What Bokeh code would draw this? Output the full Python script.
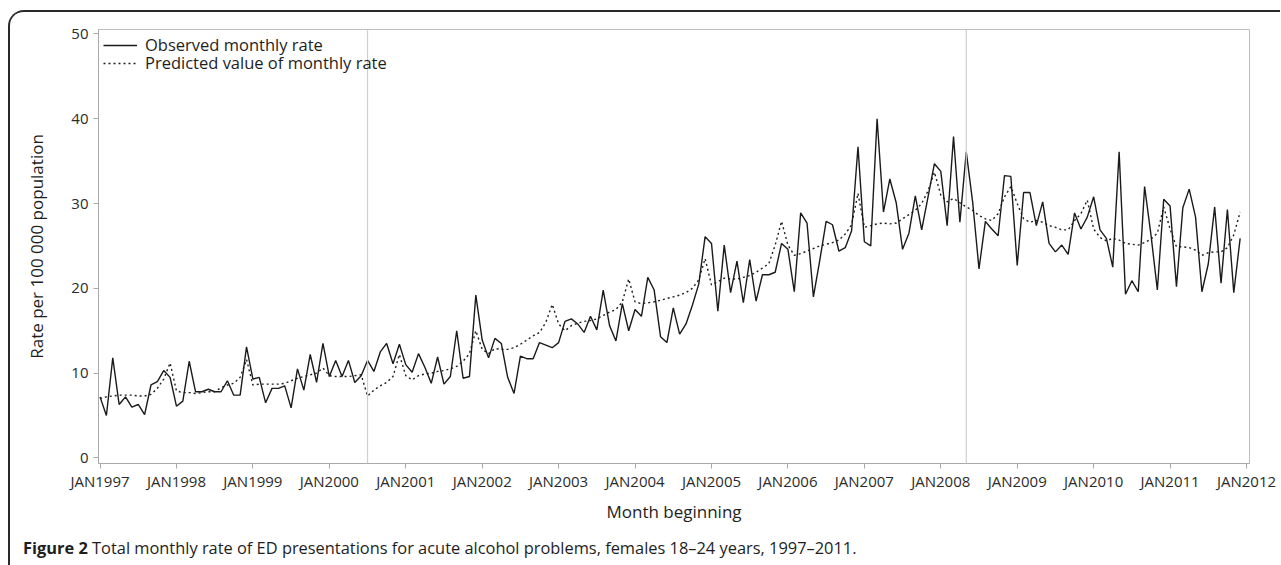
from bokeh.plotting import figure
from bokeh.models import FixedTicker, Span, Legend, LegendItem, ColumnDataSource, Range1d, Div
from bokeh.layouts import column
from bokeh.embed import file_html
from bokeh.resources import INLINE
import pandas as pd

# ---- data ----
months = pd.date_range("1997-01-01", "2011-12-01", freq="MS")

observed = [
    7.2, 5.0, 11.8, 6.3, 7.2, 6.0, 6.3, 5.1, 8.6, 9.0, 10.3, 9.5,
    6.1, 6.7, 11.4, 7.8, 7.8, 8.1, 7.8, 7.8, 9.1, 7.4, 7.4, 13.1,
    9.3, 9.5, 6.5, 8.2, 8.2, 8.5, 5.9, 10.5, 8.0, 12.2, 8.9, 13.5,
    9.6, 11.5, 9.6, 11.5, 8.9, 9.7, 11.5, 10.2, 12.5, 13.5, 11.1, 13.4,
    11.0, 10.1, 12.3, 10.7, 8.8, 11.9, 8.7, 9.6, 15.0, 9.4, 9.6, 19.2,
    13.9, 11.8, 14.1, 13.5, 9.5, 7.6, 12.0, 11.7, 11.7, 13.6, 13.3, 13.0,
    13.6, 16.1, 16.4, 15.8, 14.8, 16.7, 15.1, 19.8, 15.6, 13.8, 18.2, 15.0,
    17.5, 16.7, 21.3, 19.8, 14.3, 13.6, 17.7, 14.6, 15.8, 18.0, 20.5, 26.1,
    25.3, 17.3, 25.1, 19.5, 23.2, 18.3, 23.4, 18.5, 21.6, 21.6, 21.9, 25.3,
    24.6, 19.6, 28.9, 27.7, 19.0, 23.3, 27.9, 27.5, 24.4, 24.8, 26.8, 36.7,
    25.5, 25.0, 40.0, 29.0, 32.9, 30.1, 24.6, 26.5, 30.9, 26.9, 30.8, 34.7,
    33.8, 27.4, 37.9, 27.8, 36.1, 30.2, 22.3, 27.9, 27.0, 26.2, 33.3, 33.2,
    22.7, 31.3, 31.3, 27.4, 30.2, 25.3, 24.3, 25.1, 24.0, 28.9, 27.0, 28.4,
    30.8, 26.9, 25.9, 22.5, 36.1, 19.3, 20.9, 19.6, 32.0, 26.3, 19.8, 30.5,
    29.7, 20.2, 29.5, 31.7, 28.4, 19.6, 22.9, 29.6, 20.6, 29.3, 19.5, 25.9,
]

predicted = [
    7.0, 7.2, 7.3, 7.4, 7.4, 7.4, 7.3, 7.3, 7.5, 8.2, 9.3, 11.2,
    7.9, 7.7, 7.7, 7.6, 7.7, 7.8, 7.8, 8.3, 8.6, 8.8, 9.5, 11.6,
    8.6, 8.7, 8.7, 8.7, 8.7, 8.8, 9.1, 9.4, 9.6, 9.8, 10.0, 10.6,
    9.7, 9.6, 9.6, 9.6, 9.7, 9.8, 7.3, 8.0, 8.5, 8.9, 9.6, 12.2,
    9.7, 9.2, 9.7, 9.9, 10.0, 10.2, 10.3, 10.5, 10.8, 11.4, 12.3, 15.0,
    12.8, 12.3, 12.9, 12.8, 12.8, 13.0, 13.4, 13.9, 14.4, 14.8, 16.0, 18.1,
    15.8, 15.0, 15.6, 15.9, 16.1, 16.2, 16.4, 16.8, 17.2, 17.5, 18.4, 21.1,
    18.4, 18.2, 18.3, 18.4, 18.6, 18.8, 19.0, 19.2, 19.5, 20.0, 21.0, 23.5,
    20.4, 20.8, 21.2, 21.1, 21.1, 21.3, 21.5, 21.9, 22.4, 22.9, 25.1, 27.9,
    25.1, 23.9, 24.1, 24.4, 24.7, 25.0, 25.2, 25.4, 25.7, 26.4, 27.5, 31.2,
    27.2, 27.4, 27.6, 27.7, 27.6, 27.7, 28.2, 28.7, 29.2, 30.0, 31.5, 33.7,
    31.0, 30.2, 30.6, 30.1, 29.6, 29.2, 28.6, 28.2, 28.0, 28.8, 30.8, 32.0,
    30.0, 28.2, 27.8, 28.0, 27.8, 27.4, 27.2, 26.9, 26.9, 28.0, 28.8, 30.4,
    27.0, 26.0, 25.6, 25.9, 25.7, 25.3, 25.2, 25.1, 25.4, 25.8, 26.5, 29.6,
    27.0, 24.9, 24.9, 24.8, 24.5, 23.9, 24.2, 24.3, 24.3, 24.8, 26.3, 29.0,
]

tick_years = list(range(1997, 2013))
tick_labels = ["JAN%d" % y for y in tick_years]
y_ticks = [0, 10, 20, 30, 40, 50]
intervention_months = ["2000-07-01", "2008-05-01"]

series_labels = ["Observed monthly rate", "Predicted value of monthly rate"]
x_title = "Month beginning"
y_title = "Rate per 100 000 population"
caption_bold = "Figure 2"
caption_text = "Total monthly rate of ED presentations for acute alcohol problems, females 18\u201324 years, 1997\u20132011."


def dec_year(d):
    d = pd.Timestamp(d)
    return d.year + (d.month - 1) / 12.0


x = [dec_year(d) for d in months]
src = ColumnDataSource(dict(x=x, observed=observed, predicted=predicted))

FONT = "Open Sans"
AX = "#a9a9a9"

p = figure(
    width=1269, height=518,
    output_backend="svg", toolbar_location=None,
    x_range=Range1d(1996.98, 2012.039), y_range=Range1d(-0.66, 50.53),
    min_border_left=88, min_border_right=30, min_border_top=17, min_border_bottom=67,
)
p.border_fill_color = "white"
p.background_fill_color = "white"
p.outline_line_color = "#bdbdbd"
p.outline_line_width = 1
p.grid.visible = False

for ax in (p.xaxis[0], p.yaxis[0]):
    ax.axis_line_color = AX
    ax.major_tick_line_color = AX
    ax.minor_tick_line_color = None
    ax.major_tick_in = 0
    ax.major_tick_out = 5
    ax.major_label_text_font = FONT
    ax.major_label_text_font_size = "15px"
    ax.major_label_text_color = "#2b2b2b"
    ax.axis_label_text_font = FONT
    ax.axis_label_text_font_size = "17px"
    ax.axis_label_text_font_style = "normal"
    ax.axis_label_text_color = "#1e1e1e"

p.xaxis.ticker = FixedTicker(ticks=tick_years)
p.xaxis.major_label_overrides = {y: lab for y, lab in zip(tick_years, tick_labels)}
p.xaxis.major_label_standoff = 2
p.xaxis.axis_label = x_title
p.xaxis.axis_label_standoff = 6

p.yaxis.ticker = FixedTicker(ticks=y_ticks)
p.yaxis.major_label_standoff = 5
p.yaxis.axis_label = y_title
p.yaxis.axis_label_standoff = 20

for m in intervention_months:
    p.add_layout(Span(location=dec_year(m), dimension="height", line_color="#cfcfcf", line_width=1.2))

r_pred = p.line("x", "predicted", source=src, line_color="#1e1e1e", line_width=1.4, line_dash="2 3")
r_obs = p.line("x", "observed", source=src, line_color="#1a1a1a", line_width=1.4)

legend_common = dict(
    border_line_color=None, background_fill_alpha=0,
    padding=0, margin=0, spacing=0,
    glyph_width=34, glyph_height=16, label_standoff=8, label_height=16,
    label_text_font=FONT, label_text_font_size="16.5px", label_text_color="#1e1e1e",
)
frame_h = 434
leg1 = Legend(items=[LegendItem(label=series_labels[0], renderers=[r_obs])],
              location=(5, frame_h - 27), **legend_common)
leg2 = Legend(items=[LegendItem(label=series_labels[1], renderers=[r_pred])],
              location=(5, frame_h - 45), **legend_common)
p.add_layout(leg1)
p.add_layout(leg2)

caption = Div(
    text="<b>%s</b> %s" % (caption_bold, caption_text),
    width=1260, height=32,
    styles={
        "font-family": "'Open Sans', sans-serif",
        "font-size": "16.4px",
        "color": "#1e1e1e",
        "line-height": "20px",
        "padding-left": "8px",
        "padding-top": "3px",
        "white-space": "nowrap",
    },
)

page = column(
    p, caption, spacing=0,
    styles={
        "margin-left": "8px",
        "margin-top": "10px",
        "border-top": "2px solid #2a2a2a",
        "border-left": "2px solid #2a2a2a",
        "border-top-left-radius": "16px",
        "overflow": "hidden",
        "background-color": "white",
    },
)

open("out.html", "w").write(file_html(page, INLINE))
